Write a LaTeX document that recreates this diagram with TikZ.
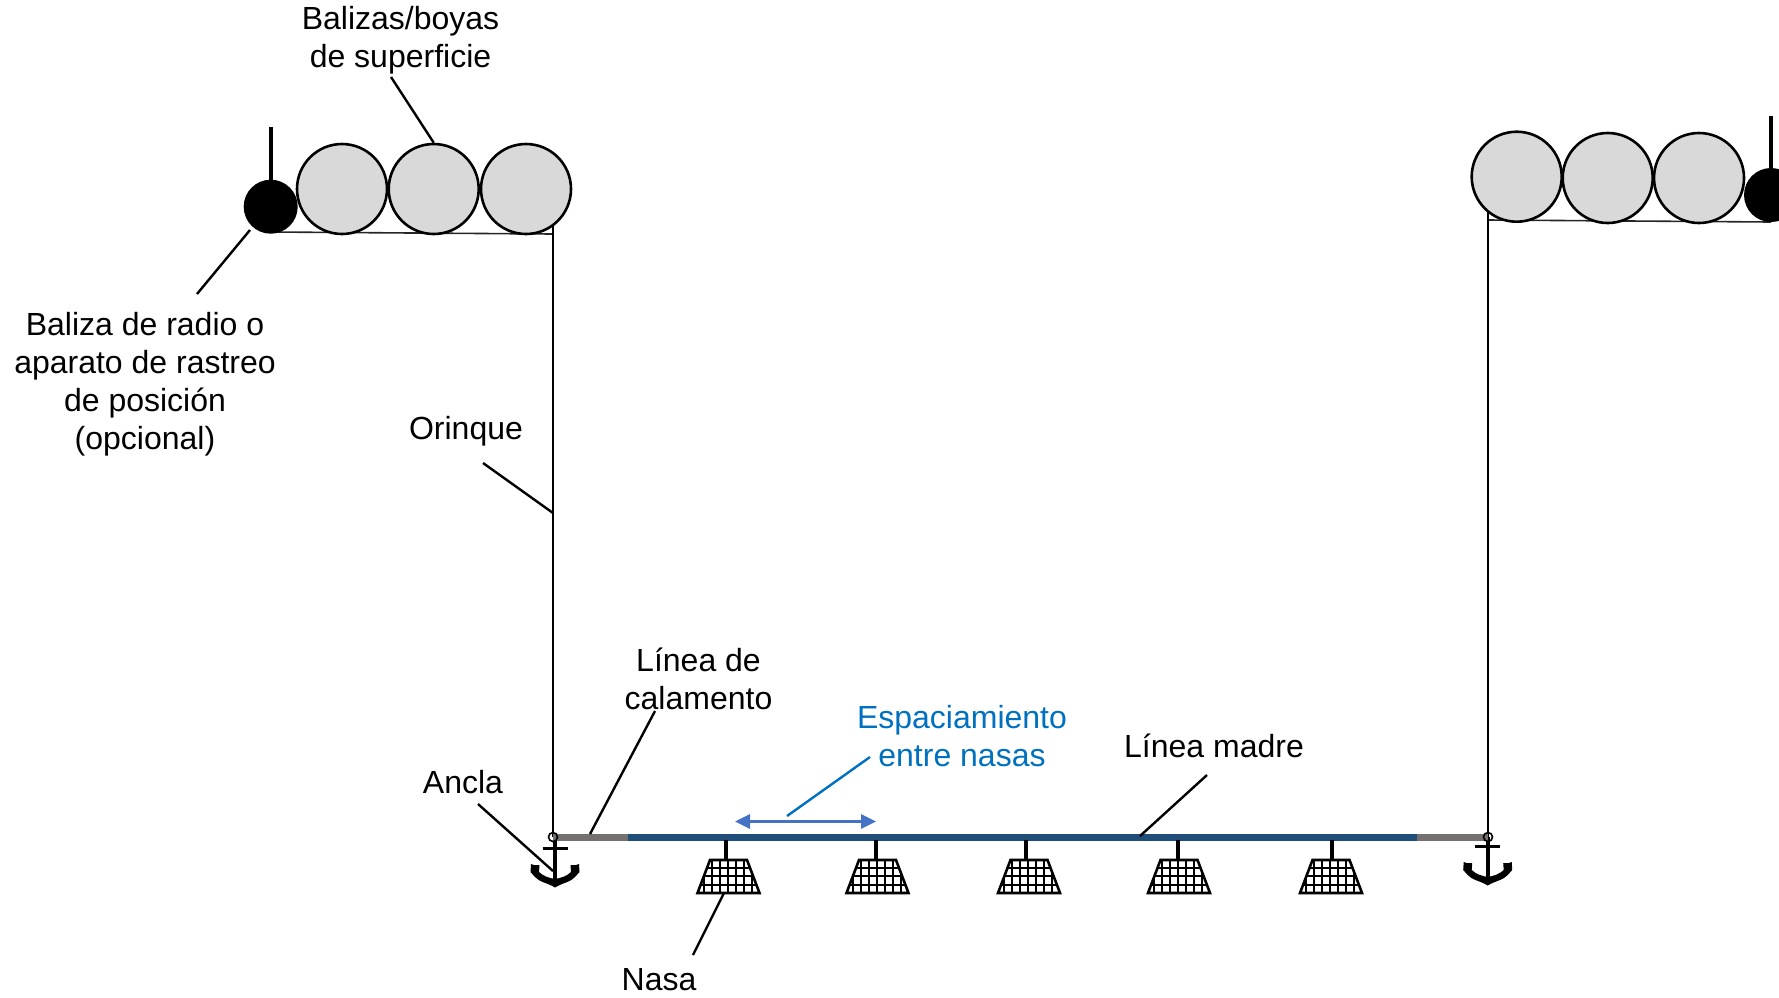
\documentclass[tikz,border=0pt]{standalone}
\usepackage{fontspec}
\setmainfont{Liberation Sans}
\usetikzlibrary{arrows.meta}
\definecolor{floatgray}{HTML}{D9D9D9}
\definecolor{lineblue}{HTML}{1F4E79}
\definecolor{linegray}{HTML}{767171}
\definecolor{spacingblue}{HTML}{0070C0}
\definecolor{arrowblue}{HTML}{4472C4}
\tikzset{
  x=1pt,y=-1pt,
  label text/.style={inner sep=0pt,align=center,font=\fontsize{32}{38}\selectfont,text=black},
  float/.style={circle,draw=black,line width=2.6pt,fill=floatgray,minimum size=90pt,inner sep=0pt},
  beacon/.style={circle,fill=black,minimum size=54pt,inner sep=0pt},
  mast/.style={line width=4pt,black},
  rope/.style={line width=2pt,black},
  thinrope/.style={line width=1.6pt,black!85},
  leader/.style={line width=2.4pt,black},
  mainblue/.style={line width=7pt,lineblue},
  maingray/.style={line width=7pt,linegray},
  stem/.style={line width=4pt,black},
  pics/nasa/.style={code={
    \coordinate (-top) at (-3,-17);
    \begin{scope}
      \clip (-18.5,-17) -- (18.5,-17) -- (31,16) -- (-31,16) -- cycle;
      \foreach \gx in {-25,-17,-9,-1,7,15,23}
        \draw[line width=2pt] (\gx,-17) -- (\gx,16);
      \foreach \gy in {-9,-1,8}
        \draw[line width=2pt] (-31,\gy) -- (31,\gy);
    \end{scope}
    \draw[line width=2.6pt,line join=miter] (-18.5,-17) -- (18.5,-17) -- (31,16) -- (-31,16) -- cycle;
  }},
  pics/ancla/.style={code={
    \draw[line width=3pt] (-12.5,0) -- (12.5,0);
    \draw[line width=3.6pt] (0,-9) -- (0,37);
    \fill (0,39.5) .. controls (-7,35) and (-16,34) .. (-20,29)
      -- (-24.5,24) -- (-24,16) -- (-21,17) -- (-15.5,17) -- (-16,24)
      .. controls (-12,28) and (-6,30) .. (0,31)
      .. controls (6,30) and (12,28) .. (16,24)
      -- (15.5,17) -- (21,17) -- (24,16) -- (24.5,24) -- (20,29)
      .. controls (16,34) and (7,35) .. (0,39.5) -- cycle;
  }}
}
\begin{document}
\begin{tikzpicture}
\useasboundingbox (0,0) rectangle (1779,997);
\clip (0,0) rectangle (1779,997);

% left buoy string
\coordinate (lmasttop) at (270.7,127);
\coordinate (lrope) at (553,234);
\coordinate (lropeend) at (271,232);
\coordinate (lbot) at (553,837);
\draw[thinrope] (lropeend) -- (lrope);
\node[float] (lf1) at (342,189) {};
\node[float] (lf2) at (433.7,189) {};
\node[float] (lf3) at (526,189) {};
\node[beacon] (lb) at (270.7,206.7) {};
\draw[mast] (lmasttop) -- (lb);
\coordinate (ltop) at (553,226);
\draw[rope] (ltop) -- (lbot);

% right buoy string
\coordinate (rmasttop) at (1771,116);
\coordinate (rrope) at (1488,220);
\coordinate (rropeend) at (1771,222);
\coordinate (rbot) at (1488,837);
\draw[thinrope] (rrope) -- (rropeend);
\node[float] (rf1) at (1516.7,176.7) {};
\node[float] (rf2) at (1607.7,178) {};
\node[float] (rf3) at (1699,178) {};
\node[beacon] (rb) at (1771,195) {};
\draw[mast] (rmasttop) -- (rb);
\coordinate (rtop) at (1488,212);
\draw[rope] (rtop) -- (rbot);

% anchors
\pic (al) at (555,848) {ancla};
\pic (ar) at (1487.7,846) {ancla};

% ground line
\coordinate (g1) at (628,837);
\coordinate (g2) at (1417,837);
\draw[mainblue] (g1) -- (g2);
\draw[maingray] (lbot) -- (g1);
\draw[maingray] (g2) -- (rbot);
\draw[line width=1.6pt,black] (lbot) circle[radius=4.5];
\draw[line width=1.6pt,black] (rbot) circle[radius=4.5];

% traps
\foreach \nm/\cx/\sx in {n1/728.5/725.5, n2/877.5/876, n3/1029/1026, n4/1179/1178, n5/1331/1332}{
  \pic (\nm) at (\cx,877) {nasa};
  \coordinate (\nm s) at (\sx,840);
  \coordinate (\nm e) at (\sx,860);
  \draw[stem] (\nm s) -- (\nm e);
}

% labels
\node[label text] (tbal) at (400.5,40.5) {Balizas/boyas\\de superficie};
\node[label text] (trad) at (145,384) {Baliza de radio o\\aparato de rastreo\\de posición\\(opcional)};
\node[label text] (tori) at (466,431) {Orinque};
\node[label text] (tcal) at (698.5,679) {Línea de\\calamento};
\node[label text,text=spacingblue] (tesp) at (962,736) {Espaciamiento\\entre nasas};
\node[label text] (tmad) at (1214,746) {Línea madre};
\node[label text] (tanc) at (463,782) {Ancla};
\node[label text] (tnas) at (659,980) {Nasa};

% leaders
\coordinate (c1a) at (391,77);
\coordinate (c2a) at (250,230);
\coordinate (c2b) at (197,294);
\coordinate (c3a) at (483,463);
\coordinate (c3b) at (553,513);
\coordinate (c4a) at (655,711);
\coordinate (c4b) at (590,834);
\coordinate (c5a) at (478,804);
\coordinate (c5b) at (553,871);
\coordinate (c6a) at (724,893);
\coordinate (c6b) at (693,955);
\coordinate (c7a) at (1207,775);
\coordinate (c7b) at (1140,836);
\coordinate (c8a) at (870,757);
\coordinate (c8b) at (787,816);
\coordinate (d1) at (735,821.5);
\coordinate (d2) at (876,821.5);
\draw[leader] (c1a) -- (lf2.north);
\draw[leader] (c2a) -- (c2b);
\draw[leader] (c3a) -- (c3b);
\draw[leader] (c4a) -- (c4b);
\draw[leader] (c5a) -- (c5b);
\draw[leader] (c6a) -- (c6b);
\draw[leader] (c7a) -- (c7b);
\draw[line width=2.4pt,spacingblue] (c8a) -- (c8b);
\draw[line width=3pt,arrowblue,{Triangle[length=15pt,width=14pt]}-{Triangle[length=15pt,width=14pt]}] (d1) -- (d2);
\end{tikzpicture}
\end{document}
